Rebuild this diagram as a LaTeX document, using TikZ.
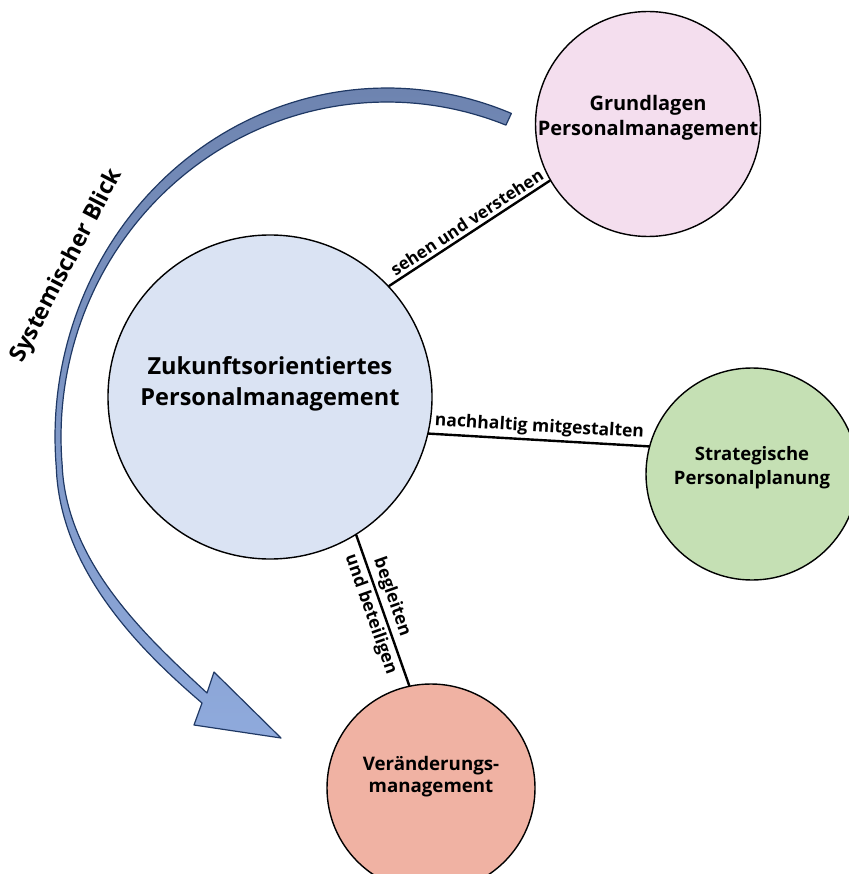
\documentclass[tikz,border=0pt]{standalone}
\usepackage{fontspec}
\setmainfont{Open Sans}
\usetikzlibrary{positioning}
\definecolor{pmblau}{RGB}{218,227,243}
\definecolor{grundrosa}{RGB}{244,222,238}
\definecolor{stratgruen}{RGB}{197,224,180}
\definecolor{veraendlachs}{RGB}{240,178,163}
\definecolor{pfeiloben}{RGB}{110,132,176}
\definecolor{pfeilunten}{RGB}{143,170,220}
\definecolor{pfeilrand}{RGB}{31,56,100}

\begin{document}
\begin{tikzpicture}[line cap=round,line join=round,x=1pt,y=-1pt,
  kreis/.style={circle,draw=black,line width=1.4pt,inner sep=0pt},
  kreistext/.style={font=\bfseries\fontsize{18.5}{24}\selectfont,align=center,inner sep=0pt},
  verbindung/.style={line width=2.4pt},
  beschriftung/.style={font=\bfseries\fontsize{17.5}{20}\selectfont,sloped,inner sep=3pt}]
\useasboundingbox (0,0) rectangle (848,874);
% Kreise
\node[kreis,fill=pmblau,minimum size=324pt] (pm) at (270,397) {};
\node[kreis,fill=grundrosa,minimum size=225pt] (grund) at (648,124) {};
\node[kreis,fill=stratgruen,minimum size=212pt] (strat) at (752,474) {};
\node[kreis,fill=veraendlachs,minimum size=208pt] (veraend) at (431,788) {};
% Texte in den Kreisen
\node[kreistext,font=\bfseries\fontsize{23.5}{31}\selectfont] (pmtext) at (270,384) {Zukunftsorientiertes\\Personalmanagement};
\node[kreistext,font=\bfseries\fontsize{20}{25}\selectfont] (grundtext) at (648,118) {Grundlagen\\Personalmanagement};
\node[kreistext] (strattext) at (752,468) {Strategische\\Personalplanung};
\node[kreistext,font=\bfseries\fontsize{18.7}{22}\selectfont] (veraendtext) at (431,777) {Veränderungs-\\management};
% Verbindungen
\draw[verbindung] (pm.43.5) -- node[beschriftung,above,pos=0.52,font=\bfseries\fontsize{17}{20}\selectfont] (sehen) {sehen und verstehen} (grund.210.4);
\draw[verbindung] (pm.-13.3) -- node[beschriftung,above,pos=0.5] (nachhaltig) {nachhaltig mitgestalten} (strat.165.3);
\draw[verbindung] (pm.-58.4) -- node[beschriftung,above,pos=0.44] (begleiten) {begleiten}
  node[beschriftung,below,pos=0.5] (beteiligen) {und beteiligen} (veraend.102);
% Pfeil: Ellipsenbogen oben/links, Bezier unten
\shadedraw[top color=pfeiloben,bottom color=pfeilunten,draw=pfeilrand,line width=1.2pt]
  plot[domain=68:185,samples=80] ({387+332*cos(\x)},{437-349*sin(\x)})
  .. controls (60,570) and (140,650) .. (202,703)
  -- (194,725) -- (281,738) -- (214,672) -- (207,693)
  .. controls (150,640) and (67,565) .. (62.2,466.2)
  -- plot[domain=185:68.6,samples=80] ({387+326*cos(\x)},{437-335*sin(\x)}) -- cycle;
\node[font=\bfseries\fontsize{23}{28}\selectfont,rotate=62.6] (blick) at (67,266) {Systemischer Blick};
\end{tikzpicture}
\end{document}
